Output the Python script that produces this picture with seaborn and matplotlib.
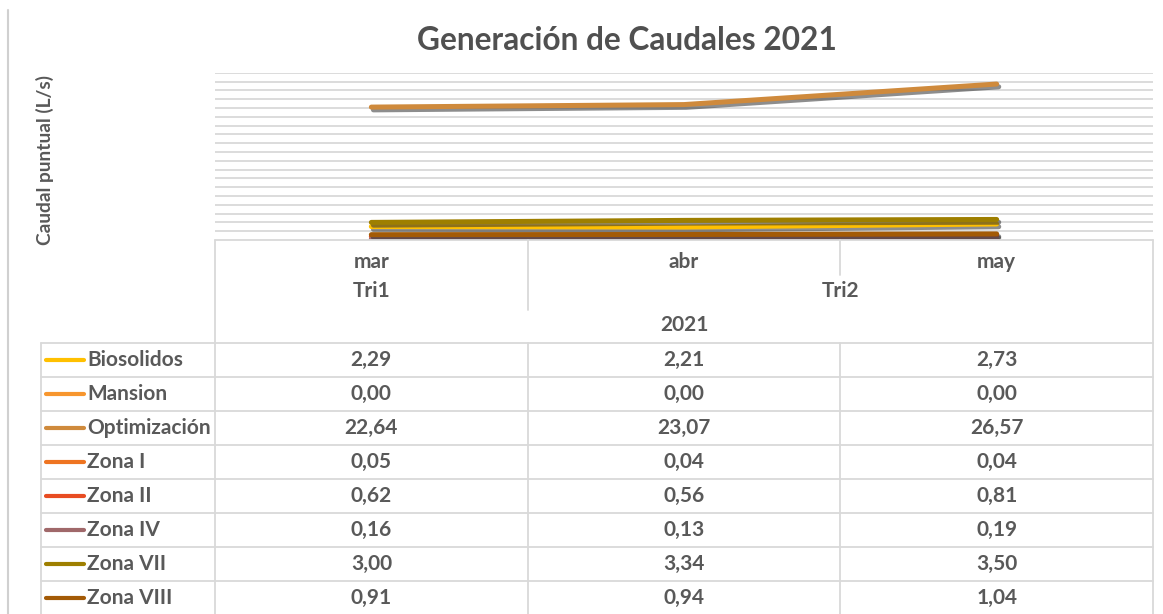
import numpy as np
import pandas as pd
import matplotlib
matplotlib.use("Agg")
import matplotlib.pyplot as plt
import matplotlib.patheffects as pe
import seaborn as sns

# data
months = ["mar", "abr", "may"]
quarters = ["Tri1", "Tri2"]
year = "2021"
series = ["Biosolidos", "Mansion", "Optimización", "Zona I", "Zona II",
          "Zona IV", "Zona VII", "Zona VIII"]
biosolidos = [2.29, 2.21, 2.73]
mansion = [0.00, 0.00, 0.00]
optimizacion = [22.64, 23.07, 26.57]
zona_i = [0.05, 0.04, 0.04]
zona_ii = [0.62, 0.56, 0.81]
zona_iv = [0.16, 0.13, 0.19]
zona_vii = [3.00, 3.34, 3.50]
zona_viii = [0.91, 0.94, 1.04]
values = [biosolidos, mansion, optimizacion, zona_i, zona_ii,
          zona_iv, zona_vii, zona_viii]
colors = ["#FFC000", "#F7962E", "#CF8A3C", "#EE7421", "#E84C22",
          "#A0686A", "#9E7F00", "#A35A06"]

rows = []
for name, vals in zip(series, values):
    for i, v in enumerate(vals):
        rows.append({"serie": name, "x": i, "valor": v})
df = pd.DataFrame(rows)

sns.set_theme(style="white")
plt.rcParams['font.family'] = ['Lato', 'DejaVu Sans']

W, H = 1163, 614
fig = plt.figure(figsize=(W / 100, H / 100), dpi=100)


def fx(px):
    return px / W


def fy(py):
    return 1 - py / H


txt = "#595959"
grid = "#D9D9D9"

# plot area
x0, x1, ytop, ybot = 215, 1153, 72.7, 240
ax = fig.add_axes([fx(x0), fy(ybot), fx(x1) - fx(x0), fy(ytop) - fy(ybot)])
for yv in np.arange(1.5, 28.6, 1.5):
    ax.axhline(yv, color=grid, lw=1.3, zorder=0)
n_grid = len(ax.get_lines())
sns.lineplot(data=df, x="x", y="valor", hue="serie", hue_order=series,
             palette=dict(zip(series, colors)), lw=3.6, legend=False, ax=ax,
             sort=False)
for ln in ax.get_lines()[n_grid:]:
    ln.set_solid_capstyle("round")
    ln.set_path_effects([pe.SimpleLineShadow(offset=(1.5, -2), shadow_color="#303030", alpha=0.55),
                         pe.Normal()])
ax.set_xlim(-0.5, 2.5)
ax.set_ylim(0, 28.5)
ax.set_xticks([])
ax.set_yticks([])
ax.set_xlabel("")
ax.set_ylabel("")
for s in ax.spines.values():
    s.set_visible(False)

# title and axis label
fig.text(fx(627), fy(40), "Generación de Caudales 2021", ha="center", va="center",
         fontsize=22.8, fontweight="bold", color="#505050")
fig.text(fx(45), fy(160), "Caudal puntual (L/s)", rotation=90, ha="center",
         va="center", fontsize=13.8, fontweight="bold", color=txt)

# left frame line
fig.add_artist(plt.Line2D([fx(8), fx(8)], [fy(10), fy(614)], color="#D0D0D0", lw=1.5))

# data table
colw = (x1 - x0) / 3
centers = [x0 + colw * (i + 0.5) for i in range(3)]
bcol = "#D9D9D9"


def hline(y, xa, xb):
    fig.add_artist(plt.Line2D([fx(xa), fx(xb)], [fy(y), fy(y)], color=bcol, lw=1.3))


def vline(x, ya, yb):
    fig.add_artist(plt.Line2D([fx(x), fx(x)], [fy(ya), fy(yb)], color=bcol, lw=1.3))


row_top = 343
rh = 34
hline(ybot, x0, x1)
vline(x0, ybot, H)
vline(x1, ybot, H)
vline(x0 + colw, ybot, 310)
vline(x0 + 2 * colw, ybot, 275)
vline(41, row_top, H)
for i in range(len(series) + 1):
    hline(row_top + i * rh, 41, x1)
for i in range(1, 3):
    vline(x0 + i * colw, row_top, H)

fs = 15
for c, m in zip(centers, months):
    fig.text(fx(c), fy(262), m, ha="center", va="center", fontsize=fs,
             fontweight="bold", color=txt)
fig.text(fx(centers[0]), fy(291), quarters[0], ha="center", va="center",
         fontsize=fs, fontweight="bold", color=txt)
fig.text(fx((x0 + colw + x1) / 2), fy(291), quarters[1], ha="center", va="center",
         fontsize=fs, fontweight="bold", color=txt)
fig.text(fx(centers[1]), fy(325), year, ha="center", va="center", fontsize=fs,
         fontweight="bold", color=txt)

for r, (name, vals, col) in enumerate(zip(series, values, colors)):
    yc = row_top + rh * (r + 0.5)
    fig.add_artist(plt.Line2D([fx(46), fx(84)], [fy(yc), fy(yc)], color=col, lw=3,
                              solid_capstyle="round"))
    fig.text(fx(87), fy(yc), name, ha="left", va="center", fontsize=fs,
             fontweight="bold", color=txt)
    for c, v in zip(centers, vals):
        fig.text(fx(c), fy(yc), f"{v:.2f}".replace(".", ","), ha="center",
                 va="center", fontsize=fs, fontweight="bold", color=txt)

fig.savefig("out.png", dpi=100)
